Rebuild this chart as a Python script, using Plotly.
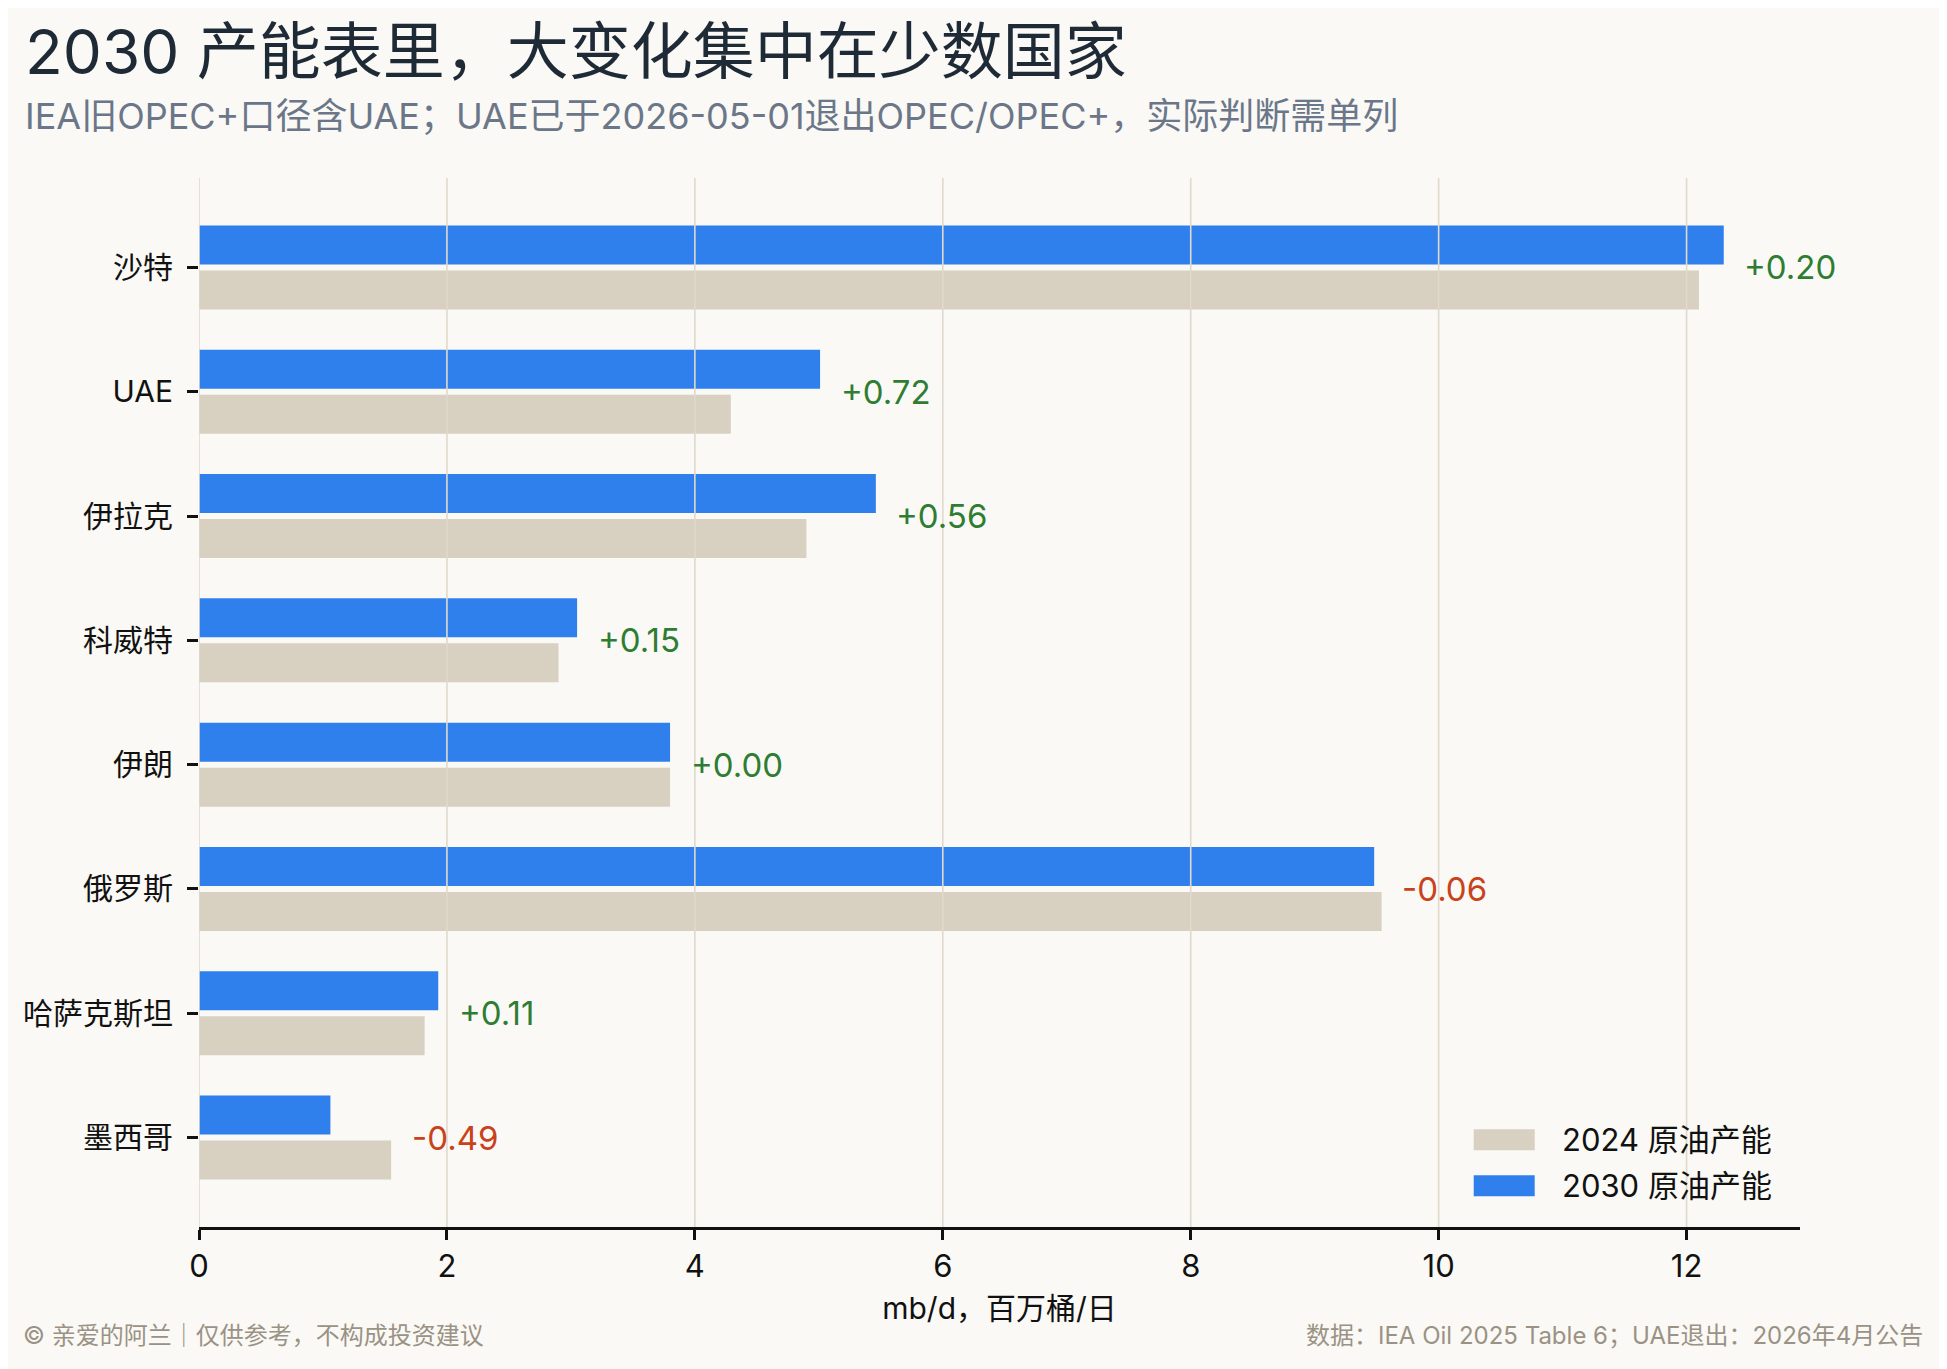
import plotly.graph_objects as go

# 数据（mb/d）
countries = ["沙特", "UAE", "伊拉克", "科威特", "伊朗", "俄罗斯", "哈萨克斯坦", "墨西哥"]
cap_2024 = [12.10, 4.29, 4.90, 2.90, 3.80, 9.54, 1.82, 1.55]
cap_2030 = [12.30, 5.01, 5.46, 3.05, 3.80, 9.48, 1.93, 1.06]
x_ticks = [0, 2, 4, 6, 8, 10, 12]

FONT = "Inter, Noto Sans CJK SC"
BG = "#faf9f5"
BLUE = "#2f80ed"
BEIGE = "#d8d0c1"
GRID = "#e0d9cc"
GREEN = "#2e7d32"
RED = "#c8421b"

fig = go.Figure()

# trace 0 sits on top because the y axis is reversed
fig.add_trace(go.Bar(y=countries, x=cap_2030, orientation="h",
                     marker=dict(color=BLUE, line=dict(width=0)),
                     name="2030 原油产能", showlegend=False))
fig.add_trace(go.Bar(y=countries, x=cap_2024, orientation="h",
                     marker=dict(color=BEIGE, line=dict(width=0)),
                     name="2024 原油产能", showlegend=False))

# change labels right of the longer bar
annotations = []
for c, a, b in zip(countries, cap_2024, cap_2030):
    d = b - a
    annotations.append(dict(
        x=max(a, b) + 0.15, y=c, xref="x", yref="y",
        text=f"{d:+.2f}", showarrow=False, xanchor="left", yanchor="middle",
        font=dict(family=FONT, size=33, color=GREEN if d >= 0 else RED)))

# title / subtitle / footer
annotations += [
    dict(x=-0.110, y=1.1207, xref="paper", yref="paper", xanchor="left", yanchor="middle",
         text="2030 产能表里，大变化集中在少数国家", showarrow=False,
         font=dict(family=FONT, size=62, color="#1f2a37")),
    dict(x=-0.110, y=1.0587, xref="paper", yref="paper", xanchor="left", yanchor="middle",
         text="IEA旧OPEC+口径含UAE；UAE已于2026-05-01退出OPEC/OPEC+，实际判断需单列",
         showarrow=False, font=dict(family=FONT, size=36, color="#6b7789")),
    dict(x=-0.111, y=-0.1031, xref="paper", yref="paper", xanchor="left", yanchor="middle",
         text="© 亲爱的阿兰｜仅供参考，不构成投资建议", showarrow=False,
         font=dict(family=FONT, size=24, color="#9a9284")),
    dict(x=1.078, y=-0.1031, xref="paper", yref="paper", xanchor="right", yanchor="middle",
         text="数据：IEA Oil 2025 Table 6；UAE退出：2026年4月公告", showarrow=False,
         font=dict(family=FONT, size=24, color="#9a9284")),
]

# legend drawn by hand (matplotlib-like wide swatches)
legend_items = [("2024 原油产能", BEIGE, 0.0832), ("2030 原油产能", BLUE, 0.0394)]
shapes = []
for label, col, yc in legend_items:
    shapes.append(dict(type="rect", xref="paper", yref="paper",
                       x0=0.7962, x1=0.8343, y0=yc - 0.0100, y1=yc + 0.0100,
                       fillcolor=col, line=dict(width=0), layer="above"))
    annotations.append(dict(x=0.8503, y=yc, xref="paper", yref="paper",
                            xanchor="left", yanchor="middle", text=label, showarrow=False,
                            font=dict(family=FONT, size=31, color="#111111")))

# vertical gridlines over the bars
for t in x_ticks:
    shapes.append(dict(type="line", xref="x", yref="paper", x0=t, x1=t, y0=0, y1=1,
                       line=dict(color=GRID, width=1.6), layer="above"))

# the page puts the plot 8px in from the top-left corner
fig.update_layout(
    width=1939, height=1361,
    paper_bgcolor=BG, plot_bgcolor=BG,
    margin=dict(l=191, r=147, t=170, b=142),
    barmode="group", bargap=0.276, bargroupgap=0.133,
    font=dict(family=FONT, color="#111111"),
    annotations=annotations, shapes=shapes,
    showlegend=False,
)
fig.update_xaxes(
    range=[0, 12.915], tickvals=x_ticks, showgrid=False, zeroline=False,
    showline=True, linecolor="#111111", linewidth=2.5,
    ticks="outside", ticklen=10, tickwidth=2.5, tickcolor="#111111",
    tickfont=dict(family=FONT, size=31, color="#111111"),
    title=dict(text="mb/d，百万桶/日", standoff=16,
               font=dict(family=FONT, size=30, color="#111111")),
)
fig.update_yaxes(
    categoryorder="array", categoryarray=countries, range=[7.72, -0.72],
    showgrid=False, zeroline=False, showline=False,
    ticks="outside", ticklen=11, tickwidth=2.5, tickcolor="#111111",
    ticklabelstandoff=8,
    tickfont=dict(family=FONT, size=30, color="#111111"),
)

fig.write_html("out.html")
